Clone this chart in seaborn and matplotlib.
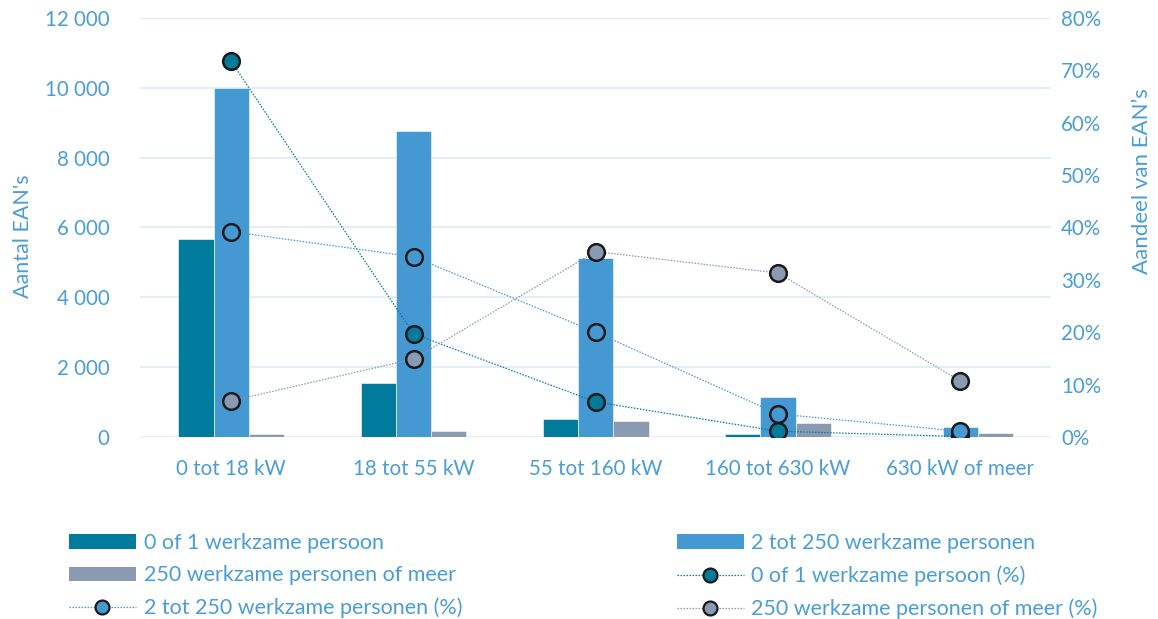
import numpy as np
import pandas as pd
import matplotlib
matplotlib.use("Agg")
import matplotlib.pyplot as plt
import seaborn as sns
from matplotlib.lines import Line2D
from matplotlib.patches import Patch
from matplotlib.ticker import FuncFormatter, PercentFormatter

# Vermogensklassen
categories = ["0 tot 18 kW", "18 tot 55 kW", "55 tot 160 kW", "160 tot 630 kW", "630 kW of meer"]

# Aantal EAN's per klasse
count_0_1 = [5680, 1550, 520, 80, 10]
count_2_250 = [10000, 8770, 5130, 1150, 290]
count_250_plus = [80, 170, 460, 400, 115]

# Aandeel van EAN's per klasse (%)
share_0_1 = [71.7, 19.7, 6.7, 1.1, 0.1]
share_2_250 = [39.2, 34.4, 20.0, 4.4, 1.1]
share_250_plus = [6.9, 14.9, 35.4, 31.3, 10.7]

series_bar = ["0 of 1 werkzame persoon", "2 tot 250 werkzame personen", "250 werkzame personen of meer"]
series_line = [s + " (%)" for s in series_bar]

c_teal = "#007B9C"
c_blue = "#4599D3"
c_grey = "#8A9AB2"
text_c = "#4A9DD8"
grid_c = "#E5EDF5"
colors = [c_teal, c_blue, c_grey]

sns.set_theme(style="white")
plt.rcParams["font.family"] = ["Lato", "DejaVu Sans"]

bars = pd.DataFrame({
    "klasse": list(categories) * 3,
    "reeks": np.repeat(series_bar, len(categories)),
    "aantal": count_0_1 + count_2_250 + count_250_plus,
})
pos = np.arange(len(categories))
lines = pd.DataFrame({
    "x": np.tile(pos, 3),
    "reeks": np.repeat(series_line, len(categories)),
    "aandeel": share_0_1 + share_2_250 + share_250_plus,
})

fig = plt.figure(figsize=(11.58, 6.19), dpi=100)
ax = fig.add_axes([0.121, 0.294, 0.787, 0.677])

sns.barplot(data=bars, x="klasse", y="aantal", hue="reeks", order=categories,
            hue_order=series_bar, palette=colors, width=0.58, saturation=1,
            edgecolor="#FFFFFF", linewidth=0.4, legend=False, ax=ax)

ax.set_ylim(0, 12000)
ax.set_yticks(np.arange(0, 12001, 2000))
ax.yaxis.set_major_formatter(FuncFormatter(lambda v, p: f"{int(v):,}".replace(",", " ")))
ax.set_xlim(-0.5, len(categories) - 0.5)
ax.grid(axis="y", color=grid_c, linewidth=1.5)
ax.set_axisbelow(True)
for s in ax.spines.values():
    s.set_visible(False)
ax.tick_params(axis="both", length=0, labelsize=14.8, labelcolor=text_c)
ax.tick_params(axis="x", pad=16)
ax.tick_params(axis="y", pad=22)
ax.set_xlabel("")
ax.set_ylabel("Aantal EAN's", fontsize=15.5, color=text_c)
ax.yaxis.set_label_coords(-0.118, 0.48)

ax2 = ax.twinx()
sns.lineplot(data=lines, x="x", y="aandeel", hue="reeks", hue_order=series_line,
             palette=colors, linestyle=(0, (1.2, 1.2)), linewidth=0.9,
             marker="o", markersize=12, markeredgecolor="#1A1A1A", markeredgewidth=1.8,
             legend=False, ax=ax2)
ax2.set_ylim(0, 80)
ax2.set_yticks(np.arange(0, 81, 10))
ax2.yaxis.set_major_formatter(PercentFormatter(decimals=0))
ax2.set_xlim(-0.5, len(categories) - 0.5)
for s in ax2.spines.values():
    s.set_visible(False)
ax2.tick_params(axis="y", length=0, labelsize=14.8, labelcolor=text_c, pad=7)
ax2.set_xlabel("")
ax2.set_ylabel("Aandeel van EAN’s", fontsize=16, color=text_c)
ax2.yaxis.set_label_coords(1.088, 0.61)
ax2.grid(False)

def bar_handle(c):
    return Patch(facecolor=c, edgecolor="none")

def line_handle(c):
    return Line2D([0], [0], color=c, linestyle=(0, (1.2, 1.2)), linewidth=0.9,
                  marker="o", markersize=10, markerfacecolor=c,
                  markeredgecolor="#1A1A1A", markeredgewidth=1.6)

leg_kw = dict(frameon=False, fontsize=15.5, labelcolor=text_c, handlelength=3.1,
              handleheight=0.65, handletextpad=0.37, labelspacing=0.58,
              loc="upper left", borderaxespad=0)
left = fig.legend([bar_handle(c_teal), bar_handle(c_grey), line_handle(c_blue)],
                  [series_bar[0], series_bar[2], series_line[1]],
                  bbox_to_anchor=(0.052, 0.153), **leg_kw)
right = fig.legend([bar_handle(c_blue), line_handle(c_teal), line_handle(c_grey)],
                   [series_bar[1], series_line[0], series_line[2]],
                   bbox_to_anchor=(0.577, 0.153), **leg_kw)
left.set_bbox_to_anchor((0.052, 0.153), transform=fig.transFigure)
right.set_bbox_to_anchor((0.577, 0.153), transform=fig.transFigure)

fig.savefig("out.png", dpi=100, facecolor="white")
